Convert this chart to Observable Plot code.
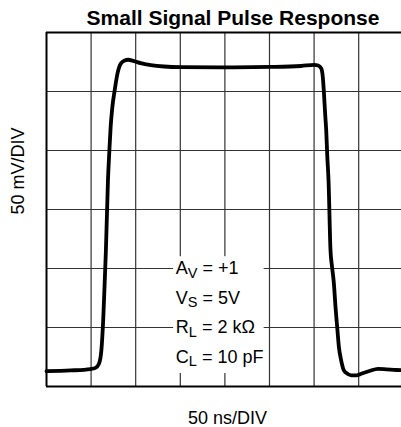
<!DOCTYPE html>
<html>
<head>
<meta charset="utf-8">
<script src="https://cdn.jsdelivr.net/npm/d3@7"></script>
<script src="https://cdn.jsdelivr.net/npm/@observablehq/plot@0.6"></script>
<style>
  html, body { margin: 0; padding: 0; background: #fff; }
  #chart svg { display: block; }
</style>
</head>
<body>
<div id="chart"></div>
<script>
// ---- data ----
const titleText = "Small Signal Pulse Response";
const xLabel = "50 ns/DIV";
const yLabel = "50 mV/DIV";

// time (ns) and output (mV) of the traced pulse
const timeNs = [0, 27, 49.5, 55, 58.8, 61.5, 63.7, 65.2, 66.6, 68.9, 70.5, 71.9, 73.8, 76.4, 79.5, 83.2, 87.7, 91.4, 98.1, 105.6, 116.9, 131.8, 150.6, 195.6, 251.8, 285.5, 300.1, 304.6, 308, 309.8, 311, 312.4, 313.6, 314.8, 316.2, 318.4, 320.2, 322.2, 324, 325.9, 327.8, 330.4, 333.2, 336.1, 341.7, 347.3, 352.9, 361.9, 371.7, 381, 392.2, 399];
const voltMv = [13.0, 13.6, 14.8, 15.8, 19.2, 30.5, 58.7, 87.3, 115.3, 174.6, 200, 219.8, 236.7, 250.9, 265, 273.5, 276.3, 276.9, 275.7, 274, 272.4, 271.2, 270.6, 270.4, 270.8, 271.6, 272.6, 272, 269.5, 262, 249.4, 231, 217, 195, 174.6, 115.3, 101, 87.3, 67.5, 50.3, 33.5, 22, 14, 11.5, 9.4, 9.4, 10.8, 13.1, 15, 14.6, 14, 13.8];

// grid divisions
const gridT = [50, 100, 150, 200, 250, 300, 350];
const gridV = [50, 100, 150, 200, 250];
const frameV = [0, 300];
const frameT = [0];

// annotation (conditions)
const annMain = ["A", "V", "R", "C"];
const annSub = ["V", "S", "L", "L"];
const annRest = [" = +1", " = 5V", " = 2 k\u03A9", " = 10 pF"];
const annV = [100, 75, 50, 25];
const annT = 145;

// ---- build ----
const trace = timeNs.map((t, i) => ({t, v: voltMv[i]}));
const ann = annMain.map((m, i) => ({t: annT, v: annV[i], label: m + annSub[i] + annRest[i], i}));
const annBox = [{x1: annT - 2.5, x2: annT + 99, y1: 11, y2: 110}];

const font = "'Liberation Sans', Arial, Helvetica, sans-serif";

const plot = Plot.plot({
  width: 401,
  height: 427,
  marginLeft: 46,
  marginRight: 0,
  marginTop: 32,
  marginBottom: 41,
  x: {domain: [0, 398], axis: null},
  y: {domain: [0, 300], axis: null},
  style: {fontFamily: font, background: "#fff", color: "#000", overflow: "visible"},
  marks: [
    Plot.ruleX(gridT, {stroke: "#333", strokeWidth: 1.2}),
    Plot.ruleY(gridV, {stroke: "#333", strokeWidth: 1.2}),
    Plot.rect(annBox, {x1: "x1", x2: "x2", y1: "y1", y2: "y2", fill: "#fff"}),
    Plot.ruleY(frameV, {stroke: "#000", strokeWidth: 2}),
    Plot.ruleX(frameT, {stroke: "#000", strokeWidth: 2}),
    Plot.line(trace, {x: "t", y: "v", stroke: "#000", strokeWidth: 3.8, curve: "monotone-x", strokeLinejoin: "round", strokeLinecap: "round"}),
    Plot.text(ann, {x: "t", y: "v", text: "label", textAnchor: "start", lineAnchor: "middle", fontSize: 18, fill: "#000"}),
    Plot.text([titleText], {frameAnchor: "top", lineAnchor: "middle", dy: -14.7, dx: 9, fontSize: 21, fontWeight: "bold", fill: "#000"}),
    Plot.text([xLabel], {frameAnchor: "bottom", lineAnchor: "middle", dy: 32.2, dx: 3.5, fontSize: 18, fill: "#000"}),
    Plot.text([yLabel], {frameAnchor: "left", lineAnchor: "middle", rotate: -90, dx: -27.8, dy: 5, fontSize: 18, fill: "#000"})
  ]
});

document.getElementById("chart").appendChild(plot);

// subscripts for the annotation lines
const NS = "http://www.w3.org/2000/svg";
const texts = Array.from(plot.querySelectorAll("text"));
ann.forEach(a => {
  const el = texts.find(t => t.textContent === a.label);
  if (!el) return;
  while (el.firstChild) el.removeChild(el.firstChild);
  const t1 = document.createElementNS(NS, "tspan");
  t1.textContent = annMain[a.i];
  const t2 = document.createElementNS(NS, "tspan");
  t2.textContent = annSub[a.i];
  t2.setAttribute("font-size", "14.5");
  t2.setAttribute("dy", "3.5");
  const t3 = document.createElementNS(NS, "tspan");
  t3.textContent = annRest[a.i];
  t3.setAttribute("dy", "-3.5");
  el.appendChild(t1); el.appendChild(t2); el.appendChild(t3);
});
</script>
</body>
</html>
